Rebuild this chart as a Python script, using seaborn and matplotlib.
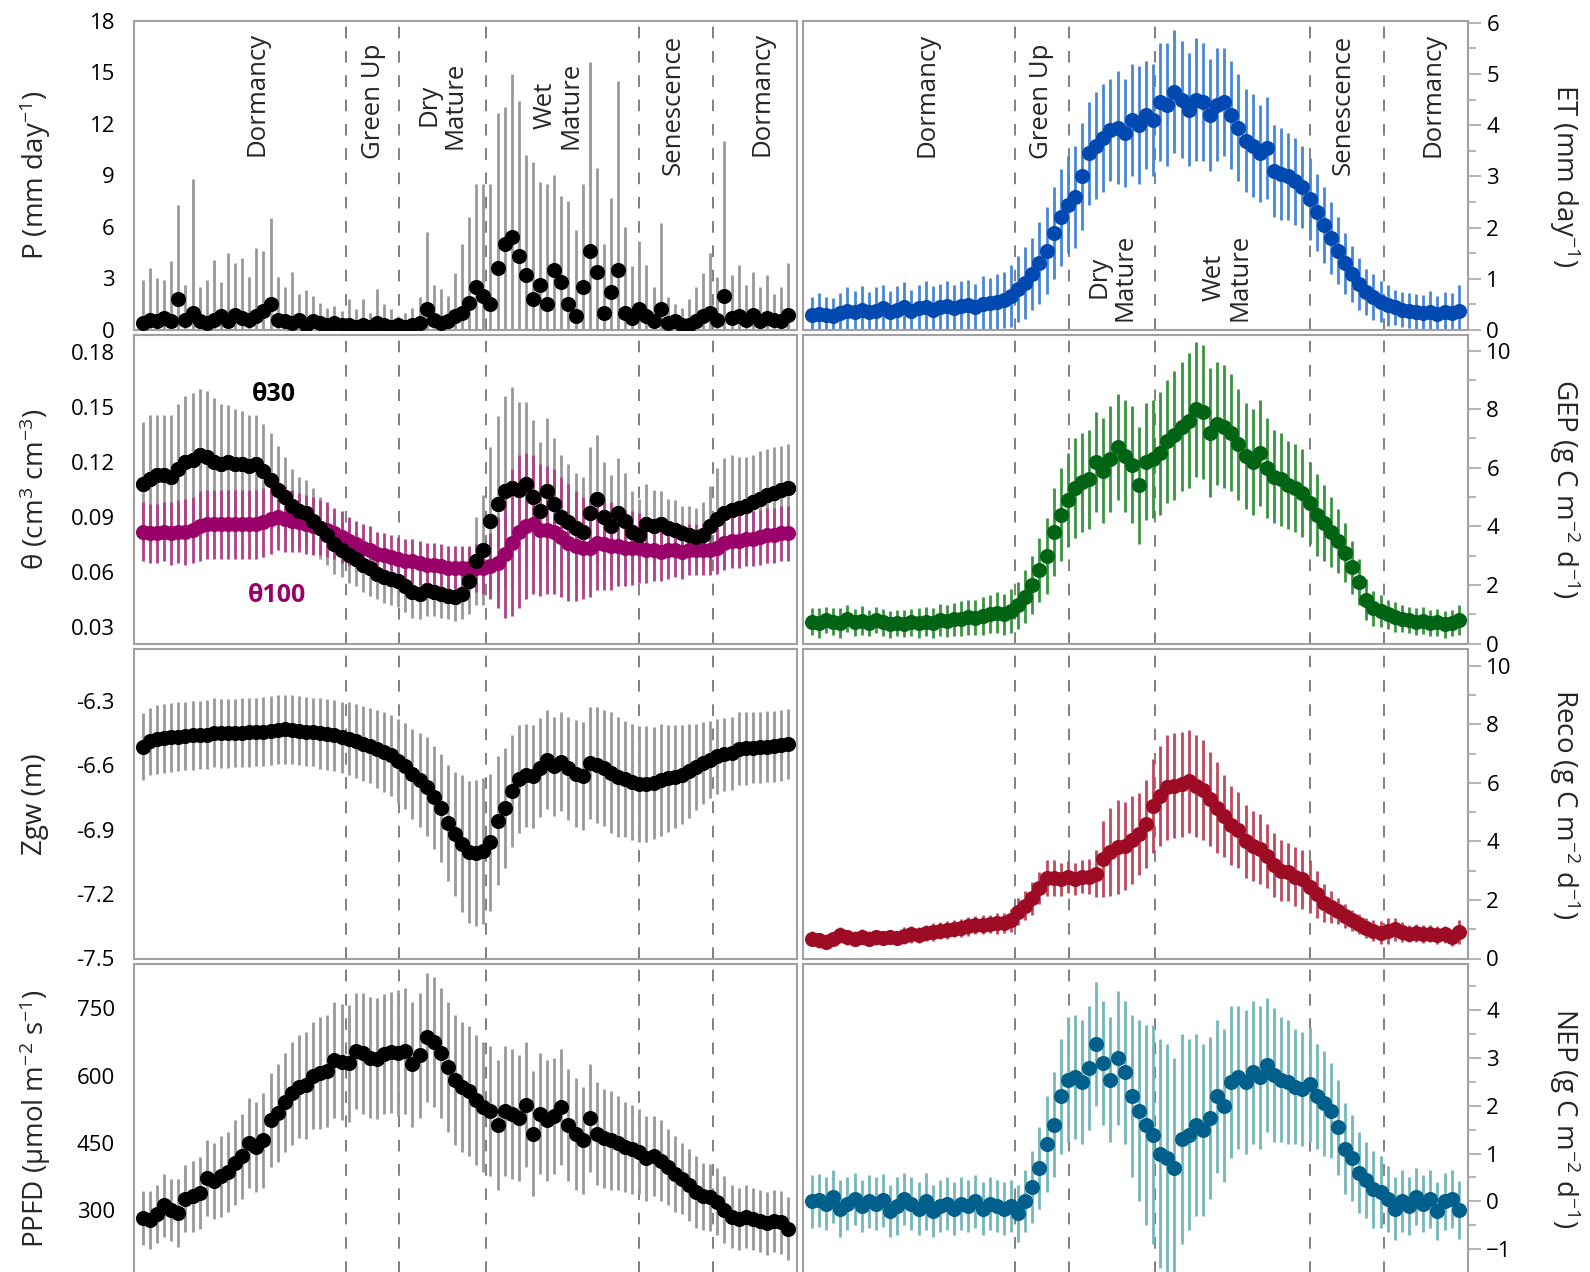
import matplotlib
matplotlib.use("Agg")
import matplotlib.pyplot as plt
import seaborn as sns
import pandas as pd
from matplotlib.ticker import MultipleLocator

# ---------------- data (every 4th day) ----------------
days = list(range(1, 366, 4))  # 92 sample days (DOY)
phase_bounds = [115.5, 145.7, 194.3, 281.0, 322.7]

P = [0.4,0.6,0.5,0.7,0.5,1.8,0.6,1.0,0.5,0.4,
     0.6,0.8,0.5,0.9,0.7,0.6,0.8,1.1,1.5,0.6,
     0.5,0.4,0.6,0.3,0.5,0.4,0.3,0.4,0.3,0.3,
     0.2,0.3,0.2,0.4,0.3,0.2,0.3,0.2,0.3,0.4,
     1.2,0.6,0.4,0.5,0.8,1.0,1.6,2.5,2.0,1.5,
     3.6,5.0,5.4,4.3,3.2,1.8,2.6,1.5,3.5,2.8,
     1.5,0.8,2.5,4.6,3.4,1.0,2.2,3.5,1.0,0.7,
     1.2,0.8,0.5,1.2,0.4,0.5,0.3,0.3,0.5,0.8,
     1.0,0.6,2.0,0.7,0.8,0.6,0.9,0.5,0.7,0.6,
     0.5,0.9]
P_err = [2.5,3.0,2.5,2.2,3.5,5.5,2.0,7.8,2.0,2.5,
         3.5,2.0,4.0,3.0,3.5,2.5,4.0,3.5,5.0,2.5,
         2.0,3.0,1.5,2.0,1.5,1.2,1.0,1.0,0.8,1.5,
         1.0,1.5,0.8,2.0,1.2,1.0,0.5,0.8,1.0,1.5,
         4.5,2.0,2.0,1.5,2.5,4.0,5.0,6.0,6.5,7.0,
         9.0,8.0,9.5,9.0,7.0,8.0,6.0,7.0,5.5,5.0,
         6.0,5.0,6.0,11.0,6.0,4.0,5.5,11.0,5.0,3.0,
         4.0,3.0,2.0,5.0,1.5,1.0,1.0,1.5,2.0,2.5,
         3.5,2.5,9.0,2.5,3.0,2.0,2.5,2.0,2.5,1.5,
         2.0,3.0]

ET = [0.30,0.32,0.30,0.28,0.33,0.38,0.36,0.40,0.35,0.38,
      0.42,0.36,0.40,0.44,0.38,0.42,0.45,0.40,0.44,0.46,
      0.42,0.46,0.48,0.45,0.50,0.52,0.55,0.58,0.66,0.80,
      0.92,1.10,1.30,1.55,1.90,2.20,2.45,2.60,3.00,3.45,
      3.60,3.75,3.90,3.95,3.85,4.10,4.00,4.20,4.10,4.45,
      4.40,4.65,4.50,4.30,4.50,4.45,4.20,4.40,4.45,4.20,
      3.95,3.70,3.60,3.45,3.55,3.10,3.05,3.00,2.90,2.80,
      2.55,2.30,2.05,1.80,1.55,1.30,1.10,0.90,0.75,0.65,
      0.55,0.48,0.44,0.40,0.38,0.35,0.34,0.36,0.32,0.35,
      0.33,0.38]
ET_err = [0.35,0.40,0.35,0.35,0.40,0.45,0.40,0.45,0.40,0.45,
          0.45,0.40,0.45,0.50,0.40,0.45,0.50,0.45,0.45,0.50,
          0.45,0.50,0.50,0.45,0.55,0.50,0.55,0.55,0.60,0.65,
          0.70,0.70,0.80,0.85,0.90,0.95,0.95,1.00,1.05,1.00,
          1.05,1.05,1.00,1.10,1.05,1.10,1.15,1.05,1.10,1.15,
          1.20,1.20,1.15,1.10,1.20,1.15,1.10,1.10,1.05,1.05,
          1.05,1.00,1.00,0.95,1.00,0.90,0.90,0.85,0.85,0.80,
          0.80,0.75,0.75,0.70,0.65,0.60,0.55,0.50,0.45,0.45,
          0.40,0.40,0.35,0.35,0.35,0.35,0.35,0.40,0.35,0.40,
          0.40,0.50]

theta30 = [0.108,0.111,0.113,0.113,0.112,0.116,0.120,0.121,0.124,0.123,
           0.120,0.119,0.120,0.119,0.119,0.118,0.119,0.115,0.110,0.105,
           0.101,0.096,0.093,0.092,0.088,0.084,0.080,0.075,0.072,0.069,
           0.067,0.064,0.062,0.059,0.057,0.056,0.055,0.052,0.049,0.048,
           0.050,0.049,0.048,0.047,0.046,0.048,0.055,0.066,0.072,0.088,
           0.097,0.104,0.106,0.105,0.108,0.101,0.093,0.104,0.097,0.090,
           0.087,0.084,0.082,0.092,0.100,0.090,0.085,0.092,0.088,0.082,
           0.080,0.086,0.085,0.086,0.084,0.083,0.081,0.080,0.079,0.080,
           0.085,0.089,0.092,0.094,0.095,0.096,0.098,0.100,0.102,0.103,
           0.105,0.106]
theta30_err = [0.034,0.035,0.033,0.033,0.034,0.036,0.036,0.037,0.036,0.036,
               0.035,0.033,0.031,0.030,0.029,0.028,0.027,0.026,0.026,0.024,
               0.022,0.020,0.019,0.018,0.018,0.017,0.016,0.016,0.015,0.015,
               0.015,0.015,0.015,0.014,0.014,0.014,0.014,0.014,0.014,0.014,
               0.014,0.013,0.013,0.013,0.013,0.014,0.018,0.024,0.030,0.040,
               0.048,0.052,0.055,0.048,0.045,0.042,0.038,0.040,0.036,0.034,
               0.032,0.030,0.030,0.036,0.035,0.030,0.028,0.030,0.026,0.022,
               0.020,0.022,0.020,0.018,0.016,0.016,0.015,0.016,0.016,0.018,
               0.022,0.028,0.030,0.030,0.028,0.027,0.026,0.026,0.025,0.025,
               0.024,0.024]

theta100 = [0.082,0.081,0.081,0.082,0.081,0.082,0.082,0.083,0.085,0.086,
            0.086,0.086,0.086,0.086,0.086,0.086,0.086,0.087,0.089,0.090,
            0.089,0.088,0.087,0.086,0.085,0.084,0.083,0.081,0.079,0.077,
            0.075,0.073,0.072,0.070,0.069,0.068,0.067,0.066,0.066,0.065,
            0.064,0.064,0.063,0.062,0.062,0.062,0.062,0.062,0.062,0.063,
            0.065,0.070,0.076,0.082,0.085,0.086,0.083,0.083,0.082,0.079,
            0.076,0.074,0.073,0.073,0.076,0.075,0.074,0.074,0.073,0.073,
            0.073,0.072,0.072,0.071,0.072,0.072,0.071,0.072,0.072,0.072,
            0.072,0.073,0.076,0.077,0.077,0.078,0.078,0.079,0.080,0.080,
            0.081,0.081]
theta100_err = [0.016,0.016,0.016,0.016,0.017,0.017,0.018,0.018,0.019,0.019,
                0.019,0.019,0.019,0.019,0.019,0.019,0.019,0.019,0.019,0.018,
                0.018,0.017,0.016,0.016,0.016,0.015,0.015,0.014,0.014,0.013,
                0.013,0.013,0.013,0.012,0.012,0.012,0.012,0.012,0.012,0.012,
                0.012,0.012,0.012,0.012,0.012,0.012,0.012,0.013,0.014,0.018,
                0.025,0.035,0.040,0.042,0.040,0.038,0.036,0.035,0.034,0.033,
                0.032,0.030,0.028,0.027,0.026,0.025,0.024,0.022,0.021,0.020,
                0.019,0.018,0.017,0.016,0.016,0.015,0.015,0.014,0.014,0.014,
                0.014,0.014,0.015,0.015,0.015,0.015,0.015,0.015,0.015,0.015,
                0.015,0.015]

GEP = [0.75,0.70,0.80,0.75,0.70,0.85,0.72,0.78,0.70,0.80,
       0.72,0.65,0.70,0.68,0.72,0.70,0.75,0.70,0.80,0.78,
       0.82,0.85,0.90,0.88,0.95,1.00,1.05,1.00,1.10,1.30,
       1.60,2.00,2.50,3.00,3.80,4.40,4.90,5.30,5.50,5.60,
       6.20,5.90,6.30,6.70,6.40,6.10,5.40,6.20,6.30,6.50,
       6.90,7.10,7.40,7.60,8.00,7.90,7.20,7.50,7.40,7.20,
       6.80,6.40,6.20,6.50,6.00,5.70,5.60,5.40,5.30,5.15,
       4.80,4.40,4.10,3.80,3.50,3.10,2.60,2.10,1.50,1.20,
       1.10,1.00,0.90,0.85,0.80,0.75,0.78,0.70,0.72,0.65,
       0.70,0.80]
GEP_err = [0.45,0.50,0.45,0.45,0.50,0.45,0.45,0.50,0.45,0.45,
           0.45,0.45,0.45,0.45,0.45,0.50,0.50,0.50,0.55,0.55,
           0.55,0.60,0.60,0.60,0.65,0.65,0.70,0.70,0.75,0.80,
           0.90,1.00,1.10,1.30,1.50,1.60,1.60,1.70,1.70,1.70,
           1.70,1.80,1.80,1.80,1.90,2.00,2.00,2.00,2.00,2.10,
           2.10,2.20,2.20,2.30,2.30,2.30,2.20,2.10,2.10,2.00,
           1.90,1.80,1.80,1.80,1.70,1.60,1.60,1.50,1.50,1.50,
           1.40,1.40,1.30,1.20,1.10,1.00,0.90,0.80,0.70,0.60,
           0.55,0.50,0.50,0.45,0.45,0.45,0.45,0.45,0.45,0.45,
           0.45,0.50]

Zgw = [-6.515,-6.490,-6.480,-6.475,-6.470,-6.468,-6.465,-6.462,-6.460,-6.458,
       -6.450,-6.452,-6.453,-6.451,-6.450,-6.448,-6.446,-6.444,-6.440,-6.436,
       -6.434,-6.436,-6.440,-6.444,-6.446,-6.452,-6.456,-6.462,-6.470,-6.478,
       -6.488,-6.500,-6.510,-6.525,-6.540,-6.555,-6.580,-6.605,-6.640,-6.670,
       -6.700,-6.750,-6.800,-6.870,-6.920,-6.965,-7.005,-7.010,-7.000,-6.960,
       -6.860,-6.800,-6.720,-6.665,-6.648,-6.652,-6.612,-6.575,-6.605,-6.585,
       -6.615,-6.640,-6.650,-6.590,-6.600,-6.615,-6.635,-6.655,-6.665,-6.680,
       -6.686,-6.688,-6.682,-6.668,-6.662,-6.655,-6.645,-6.628,-6.610,-6.590,
       -6.575,-6.560,-6.550,-6.545,-6.525,-6.522,-6.520,-6.518,-6.515,-6.512,
       -6.508,-6.502]
Zgw_err = [0.155,0.155,0.160,0.160,0.160,0.160,0.160,0.160,0.160,0.160,
           0.160,0.160,0.160,0.160,0.160,0.160,0.160,0.160,0.160,0.160,
           0.160,0.160,0.160,0.160,0.160,0.165,0.165,0.165,0.165,0.170,
           0.170,0.175,0.175,0.180,0.185,0.190,0.195,0.200,0.210,0.220,
           0.230,0.240,0.250,0.270,0.290,0.320,0.330,0.340,0.340,0.320,
           0.300,0.280,0.260,0.250,0.240,0.240,0.230,0.230,0.230,0.230,
           0.240,0.250,0.250,0.260,0.270,0.270,0.280,0.280,0.270,0.270,
           0.270,0.270,0.260,0.260,0.250,0.240,0.230,0.220,0.200,0.190,
           0.180,0.175,0.170,0.170,0.170,0.170,0.165,0.165,0.165,0.165,
           0.165,0.165]

Reco = [0.68,0.62,0.58,0.66,0.80,0.72,0.68,0.75,0.68,0.72,
        0.70,0.74,0.70,0.78,0.82,0.80,0.88,0.90,0.95,0.98,
        1.02,1.05,1.10,1.14,1.15,1.18,1.20,1.22,1.30,1.60,
        1.80,2.05,2.40,2.75,2.75,2.70,2.78,2.72,2.80,2.80,
        2.90,3.40,3.65,3.80,3.85,4.05,4.25,4.60,5.20,5.55,
        5.85,5.90,5.95,6.05,5.90,5.75,5.45,5.15,4.85,4.55,
        4.40,4.00,3.85,3.75,3.50,3.20,3.00,2.95,2.80,2.70,
        2.45,2.20,1.90,1.75,1.62,1.45,1.30,1.18,1.05,0.95,
        0.88,0.95,1.00,0.90,0.85,0.88,0.84,0.85,0.80,0.82,
        0.72,0.90]
Reco_err = [0.25,0.25,0.25,0.25,0.28,0.25,0.25,0.25,0.25,0.25,
            0.25,0.25,0.25,0.28,0.30,0.28,0.28,0.30,0.30,0.30,
            0.30,0.30,0.32,0.32,0.32,0.32,0.35,0.35,0.40,0.45,
            0.50,0.55,0.55,0.60,0.60,0.55,0.55,0.55,0.55,0.60,
            0.80,1.30,1.50,1.60,1.50,1.50,1.40,1.50,1.60,1.70,
            1.80,1.80,1.80,1.75,1.75,1.70,1.60,1.55,1.40,1.35,
            1.30,1.25,1.20,1.20,1.10,1.10,1.05,1.00,1.00,1.00,
            0.90,0.80,0.65,0.55,0.45,0.40,0.35,0.35,0.35,0.35,
            0.40,0.45,0.40,0.35,0.30,0.30,0.30,0.30,0.30,0.30,
            0.30,0.40]

PPFD = [282,278,290,310,300,293,325,330,338,372,
        365,375,385,405,420,449,440,455,500,516,
        540,560,575,578,600,605,610,635,630,627,
        655,650,640,638,648,652,650,655,625,645,
        685,675,650,620,590,575,565,545,530,520,
        490,520,515,505,535,470,515,500,510,530,
        490,470,455,505,470,460,455,450,440,435,
        430,415,420,410,395,380,370,355,340,330,
        328,318,300,285,280,285,280,275,270,275,
        272,258]
PPFD_err = [60,65,65,70,70,75,75,80,80,85,
            85,90,90,95,95,100,100,105,105,110,
            110,115,115,120,120,125,125,130,130,130,
            130,135,135,135,135,135,140,140,140,140,
            145,145,145,145,145,145,145,145,145,145,
            145,145,145,140,140,140,135,135,130,130,
            125,125,120,120,115,110,110,105,100,100,
            95,95,90,90,85,85,80,80,80,75,
            75,75,75,70,70,70,70,70,70,70,
            70,70]

NEP = [0.00,0.02,-0.05,0.10,-0.15,-0.05,0.05,-0.10,0.00,-0.05,
       0.02,-0.20,-0.10,0.05,-0.05,-0.15,0.00,-0.20,-0.10,-0.05,
       -0.15,-0.05,-0.10,0.00,-0.15,-0.05,-0.10,-0.15,-0.10,-0.25,
       0.00,0.30,0.70,1.20,1.60,2.20,2.55,2.60,2.50,2.80,
       3.30,2.90,2.55,3.00,2.70,2.20,1.90,1.60,1.40,1.00,
       0.90,0.70,1.30,1.40,1.60,1.50,1.75,2.20,2.00,2.50,
       2.60,2.50,2.70,2.60,2.85,2.65,2.55,2.50,2.40,2.35,
       2.45,2.20,2.05,1.90,1.55,1.10,0.90,0.60,0.45,0.25,
       0.20,0.05,-0.15,0.00,-0.10,0.10,-0.05,0.05,-0.20,0.00,
       0.05,-0.18]
NEP_err = [0.55,0.55,0.55,0.55,0.60,0.55,0.55,0.55,0.55,0.55,
           0.55,0.55,0.60,0.55,0.55,0.55,0.60,0.55,0.55,0.55,
           0.55,0.55,0.55,0.55,0.55,0.55,0.55,0.55,0.55,0.60,
           0.65,0.75,0.85,1.00,1.10,1.20,1.30,1.30,1.30,1.30,
           1.30,1.30,1.30,1.40,1.50,1.70,1.90,2.10,2.30,2.40,
           2.40,2.30,2.20,2.00,1.90,1.80,1.70,1.60,1.60,1.60,
           1.50,1.50,1.50,1.50,1.40,1.40,1.30,1.30,1.20,1.20,
           1.20,1.10,1.10,1.00,1.00,0.95,0.90,0.85,0.80,0.80,
           0.75,0.70,0.65,0.65,0.60,0.60,0.60,0.60,0.60,0.60,
           0.60,0.60]

phase_labels = ["Dormancy", "Green Up", "Dry\nMature", "Wet\nMature", "Senescence", "Dormancy"]
phase_x_left = [65.3, 131.1, 169.7, 235.1, 299.8, 350.4]
phase_y_left = [0.763, 0.738, 0.727, 0.727, 0.727, 0.763]
phase_x_right = [65.5, 130.2, 170.1, 234.8, 300.1, 350.5]
phase_y_right = [0.760, 0.738, 0.171, 0.171, 0.727, 0.760]

# ---------------- style ----------------
sns.set_style("white")
plt.rcParams["font.family"] = ["Open Sans", "DejaVu Sans"]
plt.rcParams["mathtext.fontset"] = "custom"
plt.rcParams["mathtext.rm"] = "Open Sans"
plt.rcParams["mathtext.it"] = "Open Sans"
plt.rcParams["mathtext.bf"] = "Open Sans:bold"
plt.rcParams["mathtext.default"] = "regular"

W, H = 1590, 1272
fig = plt.figure(figsize=(W / 100, H / 100), dpi=100)

GRID = "#a0a0a0"
DASH = "#808080"
TICK_FS = 16
LAB_FS = 20
PH_FS = 18.5
MS = 118

XMIN, XMAX = -4.2, 369.9

col_px = [(133.7, 797.0), (802.7, 1467.5)]
row_px = [(20.7, 330.0), (335.0, 643.5), (649.0, 958.5), (964.0, 1273.5)]


def make_ax(r, c):
    x0, x1 = col_px[c]
    y0, y1 = row_px[r]
    ax = fig.add_axes([x0 / W, 1 - y1 / H, (x1 - x0) / W, (y1 - y0) / H])
    ax.set_xlim(XMIN, XMAX)
    ax.set_xticks([])
    for s in ax.spines.values():
        s.set_color(GRID)
        s.set_linewidth(1.5)
    if c == 1:
        ax.yaxis.tick_right()
    ax.tick_params(axis="y", which="major", direction="out", length=9, width=1.1,
                   color=GRID, labelsize=TICK_FS, pad=4.5, labelcolor="black")
    ax.tick_params(axis="y", which="minor", direction="out", length=5.5, width=1.1, color=GRID)
    for b in phase_bounds:
        ax.axvline(b, color=DASH, lw=1.4, dashes=(6, 6.5), zorder=0.5)
    return ax


def draw(ax, y, err, mcolor, ecolor, elw=2.0):
    df = pd.DataFrame({"day": days, "val": y, "err": err})
    ax.errorbar(df["day"], df["val"], yerr=df["err"], fmt="none", ecolor=ecolor,
                elinewidth=elw, capsize=0, zorder=1.5)
    sns.scatterplot(data=df, x="day", y="val", color=mcolor, s=MS, linewidth=0,
                    ax=ax, zorder=3, legend=False)
    ax.set_xlabel("")
    ax.set_ylabel("")


def ylab(text, r, c):
    y0, y1 = row_px[r]
    yc = 1 - (y0 + y1) / 2 / H
    if c == 0:
        fig.text(35 / W, yc, text, rotation=90, ha="center", va="center", fontsize=LAB_FS)
    else:
        fig.text(1565 / W, yc, text, rotation=270, ha="center", va="center", fontsize=LAB_FS)


# Row 1
ax = make_ax(0, 0)
draw(ax, P, P_err, "black", "#999999")
ax.set_ylim(0, 18)
ax.yaxis.set_major_locator(MultipleLocator(3))
ax.yaxis.set_minor_locator(MultipleLocator(1.5))
for t, x, yf in zip(phase_labels, phase_x_left, phase_y_left):
    ax.text(x, yf, t, transform=ax.get_xaxis_transform(), rotation=90, ha="center",
            va="center", multialignment="center", fontsize=PH_FS, linespacing=1.05)
ylab("P (mm day$^{-1}$)", 0, 0)

ax = make_ax(0, 1)
draw(ax, ET, ET_err, "#0049b0", "#4a86d8")
ax.set_ylim(0, 6.04)
ax.yaxis.set_major_locator(MultipleLocator(1))
ax.yaxis.set_minor_locator(MultipleLocator(0.5))
for t, x, yf in zip(phase_labels, phase_x_right, phase_y_right):
    ax.text(x, yf, t, transform=ax.get_xaxis_transform(), rotation=90, ha="center",
            va="center", multialignment="center", fontsize=PH_FS, linespacing=1.05)
ylab("ET (mm day$^{-1}$)", 0, 1)

# Row 2
ax = make_ax(1, 0)
draw(ax, theta30, theta30_err, "black", "#999999")
draw(ax, theta100, theta100_err, "#9a006a", "#b0408a")
sns.scatterplot(x=days, y=theta30, color="black", s=MS, linewidth=0, ax=ax, zorder=4, legend=False)
ax.set_ylim(0.0208, 0.1895)
ax.yaxis.set_major_locator(MultipleLocator(0.03))
ax.yaxis.set_minor_locator(MultipleLocator(0.01))
ax.yaxis.set_major_formatter(matplotlib.ticker.FormatStrFormatter("%.2f"))
ax.text(74.6, 0.157, "θ30", ha="center", va="center", fontsize=18, fontweight="bold", color="black")
ax.text(76.9, 0.0473, "θ100", ha="center", va="center", fontsize=18, fontweight="bold", color="#9a006a")
ylab("θ (cm$^{3}$ cm$^{-3}$)", 1, 0)

ax = make_ax(1, 1)
draw(ax, GEP, GEP_err, "#006414", "#3a9440")
ax.set_ylim(0, 10.53)
ax.yaxis.set_major_locator(MultipleLocator(2))
ax.yaxis.set_minor_locator(MultipleLocator(1))
ylab("GEP (g C m$^{-2}$ d$^{-1}$)", 1, 1)

# Row 3
ax = make_ax(2, 0)
draw(ax, Zgw, Zgw_err, "black", "#999999")
ax.set_ylim(-7.5, -6.06)
ax.yaxis.set_major_locator(MultipleLocator(0.3))
ax.yaxis.set_minor_locator(MultipleLocator(0.15))
ax.yaxis.set_major_formatter(matplotlib.ticker.FormatStrFormatter("%.1f"))
ylab("Zgw (m)", 2, 0)

ax = make_ax(2, 1)
draw(ax, Reco, Reco_err, "#9e0b25", "#bd4a5e")
ax.set_ylim(0, 10.57)
ax.yaxis.set_major_locator(MultipleLocator(2))
ax.yaxis.set_minor_locator(MultipleLocator(1))
ylab("Reco (g C m$^{-2}$ d$^{-1}$)", 2, 1)

# Row 4
ax = make_ax(3, 0)
draw(ax, PPFD, PPFD_err, "black", "#999999")
ax.set_ylim(158, 849)
ax.yaxis.set_major_locator(MultipleLocator(150))
ax.yaxis.set_minor_locator(MultipleLocator(75))
ylab("PPFD (μmol m$^{-2}$ s$^{-1}$)", 3, 0)

ax = make_ax(3, 1)
draw(ax, NEP, NEP_err, "#005f8b", "#74b8ba")
ax.set_ylim(-1.51, 4.97)
ax.yaxis.set_major_locator(MultipleLocator(1))
ax.yaxis.set_minor_locator(MultipleLocator(0.5))
ylab("NEP (g C m$^{-2}$ d$^{-1}$)", 3, 1)

fig.savefig("out.png", dpi=100)
